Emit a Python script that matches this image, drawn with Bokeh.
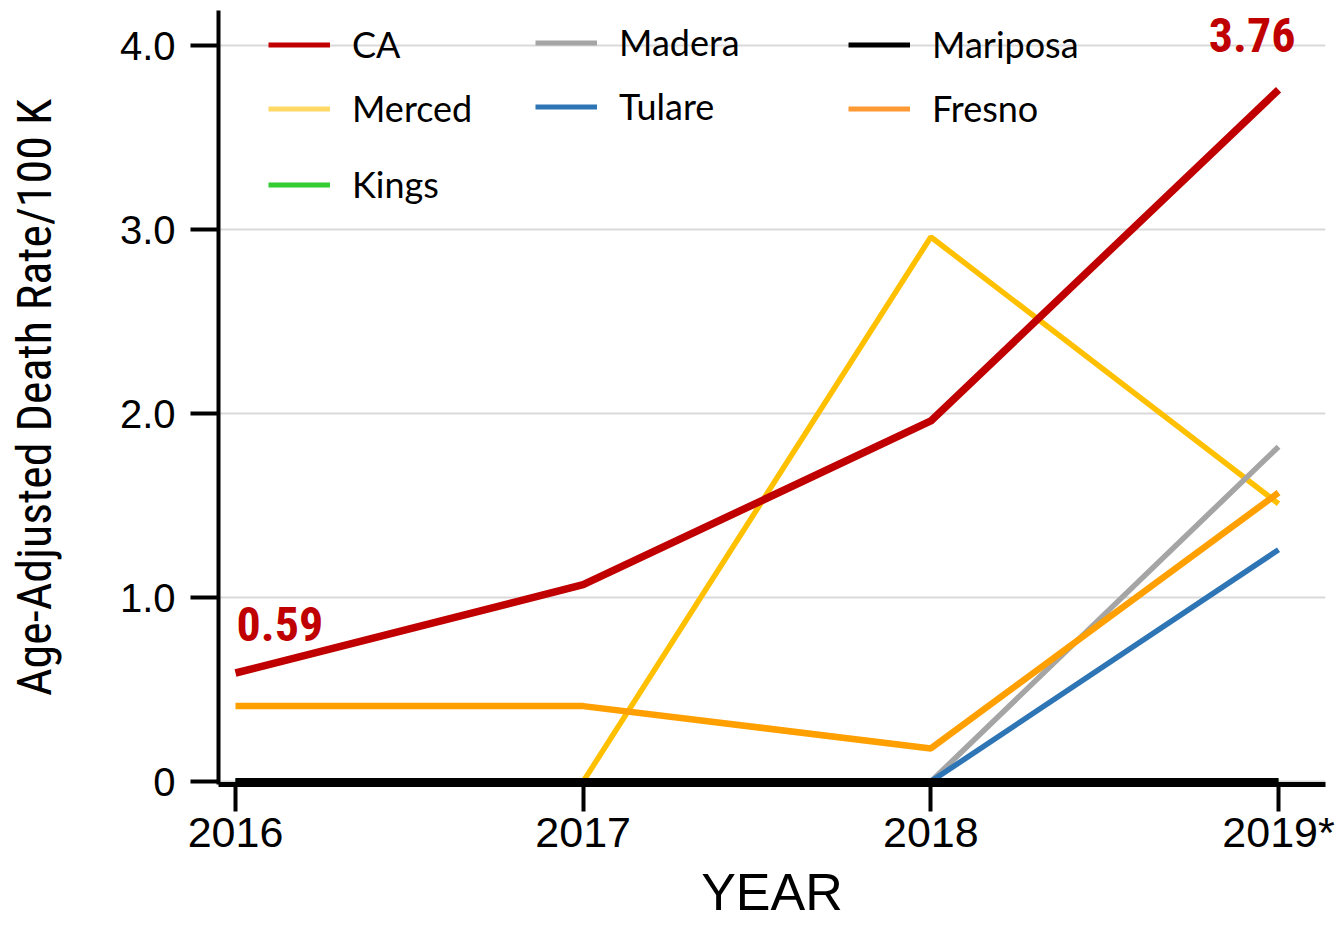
from bokeh.plotting import figure
from bokeh.models import Range1d, FixedTicker, Legend, LegendItem, ColumnDataSource
from bokeh.core.properties import value
from bokeh.embed import file_html
from bokeh.resources import INLINE

years = [2016, 2017, 2018, 2019]
year_labels = ["2016", "2017", "2018", "2019*"]
y_ticks = [0, 1, 2, 3, 4]
y_tick_labels = ["0", "1.0", "2.0", "3.0", "4.0"]

ca = [0.59, 1.07, 1.96, 3.76]
merced = [0.0, 0.0, 2.96, 1.51]
fresno = [0.41, 0.41, 0.18, 1.57]
madera = [0.0, 0.0, 0.0, 1.82]
tulare = [0.0, 0.0, 0.0, 1.26]
kings = [0.0, 0.0, 0.0, 0.0]
mariposa = [0.0, 0.0, 0.0, 0.0]

NARROW = "'Roboto Condensed', 'Liberation Sans Narrow', 'DejaVu Sans Condensed', Roboto"

p = figure(width=1341, height=926, output_backend="svg", toolbar_location=None,
           x_range=Range1d(2015.9511, 2019.1351), y_range=Range1d(-0.016, 4.191),
           min_border_left=218, min_border_right=16, min_border_top=10, min_border_bottom=142)
p.outline_line_color = None
p.background_fill_color = "white"

for ax in (p.xaxis[0], p.yaxis[0]):
    ax.axis_line_color = "black"
    ax.major_tick_line_color = "black"
    ax.minor_tick_line_color = None
    ax.major_label_text_color = "black"
    ax.axis_label_text_color = "black"
    ax.axis_label_text_font_style = "normal"

p.xaxis.ticker = FixedTicker(ticks=years)
p.xaxis.major_label_overrides = {y: l for y, l in zip(years, year_labels)}
p.xaxis.axis_line_width = 5
p.xaxis.major_tick_line_width = 4
p.xaxis.major_tick_out = 27
p.xaxis.major_tick_in = 0
p.xaxis.major_label_standoff = -4
p.xaxis.major_label_text_font = "Liberation Sans"
p.xaxis.major_label_text_font_size = "43px"
p.xaxis.axis_label = "YEAR"
p.xaxis.axis_label_text_font = "Liberation Sans"
p.xaxis.axis_label_text_font_size = "52px"
p.xaxis.axis_label_standoff = 4

p.yaxis.ticker = FixedTicker(ticks=y_ticks)
p.yaxis.major_label_overrides = {t: l for t, l in zip(y_ticks, y_tick_labels)}
p.yaxis.axis_line_width = 4
p.yaxis.major_tick_line_width = 4
p.yaxis.major_tick_out = 28
p.yaxis.major_tick_in = 0
p.yaxis.major_label_standoff = 15
p.yaxis.major_label_text_font = "Liberation Sans"
p.yaxis.major_label_text_font_size = "40px"
p.yaxis.axis_label = "Age-Adjusted Death Rate/100 K"
p.yaxis.axis_label_text_font = NARROW
p.yaxis.axis_label_text_font_size = "48px"
p.yaxis.axis_label_standoff = 54

p.xgrid.grid_line_color = None
p.ygrid.grid_line_color = "#D9D9D9"
p.ygrid.grid_line_width = 2

# data lines
p.line(years, kings, line_color="#33CC33", line_width=6)
p.line(years, merced, line_color="#FFC000", line_width=5.5)
p.line(years, madera, line_color="#A5A5A5", line_width=5.5)
p.line(years, tulare, line_color="#2E75B6", line_width=5.5)
p.line(years, fresno, line_color="#FF9F00", line_width=6.5)
p.line(years, ca, line_color="#C00000", line_width=7.5)
p.line(years, mariposa, line_color="black", line_width=7)

# legend proxies (legend colours), not drawn in the plot area
nan = [float("nan")]
lg = {}
for name, col in [("CA", "#C00000"), ("Merced", "#FFD966"), ("Kings", "#33CC33"),
                  ("Madera", "#A5A5A5"), ("Tulare", "#2E75B6"),
                  ("Mariposa", "black"), ("Fresno", "#FF9933")]:
    lg[name] = p.line(nan, nan, line_color=col, line_width=5)

def make_legend(names, loc):
    leg = Legend(items=[LegendItem(label=n, renderers=[lg[n]]) for n in names],
                 location=loc, orientation="vertical",
                 glyph_width=62, glyph_height=43, label_height=43,
                 label_standoff=22, spacing=20, padding=0, margin=0,
                 border_line_alpha=0, background_fill_alpha=0,
                 label_text_font="Lato", label_text_font_size="36px",
                 label_text_color="black")
    p.add_layout(leg)

make_legend(["CA", "Merced"], (50, 654))
make_legend(["Kings"], (50, 578))
make_legend(["Madera", "Tulare"], (317, 656))
make_legend(["Mariposa", "Fresno"], (630, 654))

# annotations
first = ColumnDataSource(dict(x=[years[0]], y=[ca[0]], t=["%.2f" % ca[0]]))
last = ColumnDataSource(dict(x=[years[-1]], y=[ca[-1]], t=["%.2f" % ca[-1]]))
p.text(x="x", y="y", text="t", source=first, text_align="left", text_baseline="alphabetic",
       x_offset=1, y_offset=-49, text_color="#C00000", text_font=value(NARROW),
       text_font_style="bold", text_font_size="48px")
p.text(x="x", y="y", text="t", source=last, text_align="right", text_baseline="alphabetic",
       x_offset=17, y_offset=-55, text_color="#C00000", text_font=value(NARROW),
       text_font_style="bold", text_font_size="48px")

open("out.html", "w").write(file_html(p, INLINE))
